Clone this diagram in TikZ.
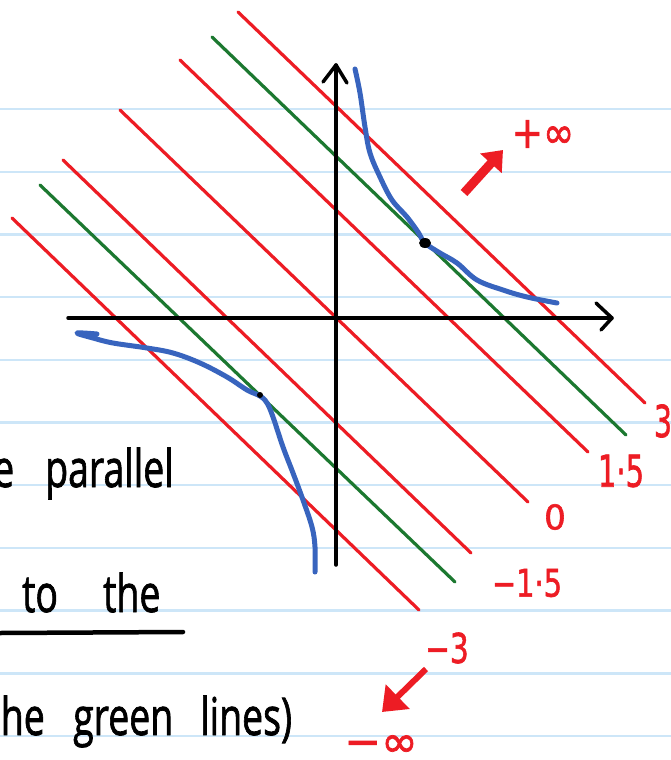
\documentclass[tikz,border=0pt]{standalone}
\usepackage{fontspec}
\usepackage{graphicx}
\setmainfont{Open Sans}
\newfontfamily\handfont{Open Sans}[FakeBold=1.6]
\newfontfamily\labelfont{DejaVu Sans}[FakeBold=1.6]
\usetikzlibrary{arrows.meta}
\definecolor{rulecol}{RGB}{205,230,248}
\definecolor{penred}{RGB}{237,28,36}
\definecolor{pengreen}{RGB}{28,120,48}
\definecolor{penblue}{RGB}{56,100,190}
\newcommand\handx[1]{\scalebox{0.72}[1]{#1}}
\newcommand\labx[2]{\scalebox{#1}[1]{#2}}
\tikzset{
 ruling/.style={rulecol, line width=2.4pt},
 redline/.style={penred, line width=3.2pt, line cap=round},
 greenline/.style={pengreen, line width=3.2pt, line cap=round},
 axisline/.style={black, line width=3.5pt, line cap=round, line join=round},
 curve/.style={penblue, line width=5pt, line cap=round, line join=round},
 hand/.style={inner sep=0pt, anchor=base west, font=\handfont\fontsize{52}{52}\selectfont},
 lab/.style={penred, inner sep=0pt, font=\labelfont\fontsize{44}{44}\selectfont},
 bigarrow/.style={penred, line width=9pt, -{Triangle[length=18pt,width=28pt]}},
 smallarrow/.style={penred, line width=6pt, -{Triangle[length=22pt,width=33pt]}},
}
\begin{document}
\begin{tikzpicture}[x=1pt,y=-1pt]
\useasboundingbox (0,0) rectangle (671,760);
\clip (0,0) rectangle (671,760);
\fill[white] (0,0) rectangle (671,760);
% ruled paper
\foreach \k in {0,...,10}
  \draw[ruling] (0,{109+62.7*\k}) -- (671,{109+62.7*\k});
% level lines
\draw[redline] (238,12) -- (645,403);
\draw[greenline] (212,37) -- (626,435);
\draw[redline] (180,60) -- (588,452);
\draw[redline] (120,110) -- (528,502);
\draw[redline] (63,160) -- (471,553);
\draw[greenline] (40,185) -- (455,582);
\draw[redline] (12,218) -- (419,610);
% axes
\draw[axisline] (68,318) -- (612,318);
\draw[axisline] (596,303) -- (612,318) -- (601,330);
\draw[axisline] (336,565) -- (336,65);
\draw[axisline] (323,82) -- (336,65) -- (347,83);
% blue curves
\draw[curve] plot[smooth, tension=0.6] coordinates {(355,69) (360,93) (365,127) (370,153) (380,177) (392,200) (407,217) (418,232) (425,243) (440,253) (457,263) (477,280) (503,290) (527,297) (557,303)};
\draw[curve] plot[smooth, tension=0.6] coordinates {(97,334) (77,333) (93,338) (113,343) (147,348) (173,353) (200,363) (227,377) (247,390) (260,396) (267,403) (273,417) (283,447) (293,473) (303,500) (312,527) (315,547) (315,572)};
\fill (425,243) ellipse (6pt and 5pt);
\fill (260,395) circle (3pt);
% red arrows
\draw[bigarrow] (464,193) -- (503,150);
\draw[smallarrow] (426,669) -- (382,712);
% labels
\node[lab] (l3) at (663,421) {\labx{0.64}{3}};
\node[lab] (l15) at (621,471) {\labx{0.66}{1·5}};
\node[lab, font=\labelfont\fontsize{34}{34}\selectfont] (l0) at (555,517) {\labx{1.0}{0}};
\node[lab, font=\labelfont\fontsize{38}{38}\selectfont] (lm15) at (527,583) {\labx{0.76}{−1·5}};
\node[lab, font=\labelfont\fontsize{41}{41}\selectfont] (lm3) at (447,648) {\labx{0.72}{−3}};
\node[lab] (pinf) at (543,134) {\labx{0.85}{+∞}};
\node[lab] (minf) at (381,746) {\labx{1.0}{−∞}};
% handwriting
\node[hand] (w1) at (-7,487) {\handx{e}};
\node[hand] (w2) at (45,487) {\handx{parallel}};
\node[hand] (w3) at (22,612) {\handx{to}};
\node[hand] (w4) at (103,612) {\handx{the}};
\draw[black, line width=4.5pt, line cap=round] (0,633) -- (183,632);
\node[hand, anchor=base east] (w5) at (45,735) {\handx{he}};
\node[hand] (w6) at (73,735) {\handx{green}};
\node[hand] (w7) at (200,735) {\handx{lines)}};
\end{tikzpicture}
\end{document}
